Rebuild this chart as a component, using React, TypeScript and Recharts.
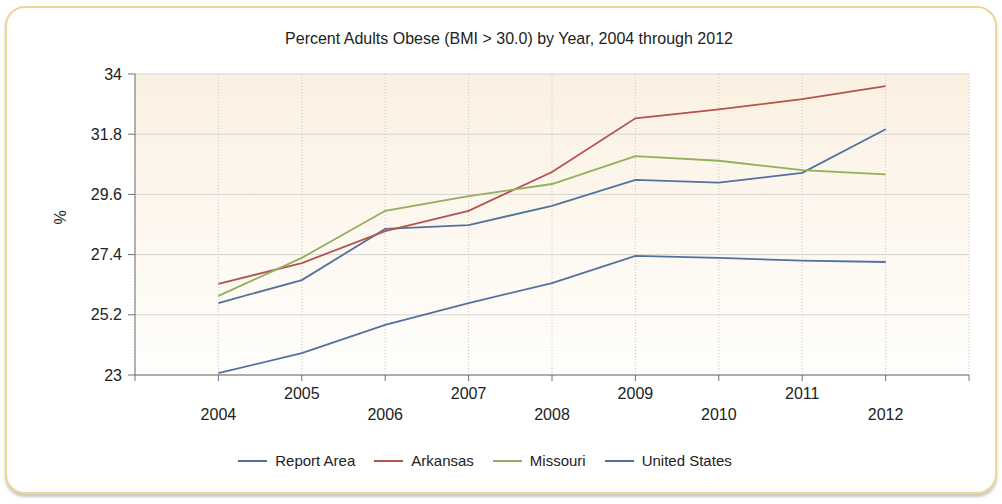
import React from "react";
import {
  LineChart,
  Line,
  XAxis,
  YAxis,
  CartesianGrid,
  Legend,
} from "recharts";

const years = [2004, 2005, 2006, 2007, 2008, 2009, 2010, 2011, 2012];
const reportArea = [25.63, 26.47, 28.34, 28.48, 29.18, 30.13, 30.03, 30.39, 31.98];
const arkansas = [26.33, 27.09, 28.26, 29.0, 30.42, 32.38, 32.71, 33.08, 33.56];
const missouri = [25.89, 27.28, 29.0, 29.54, 29.98, 31.0, 30.83, 30.49, 30.33];
const unitedStates = [23.07, 23.8, 24.83, 25.63, 26.36, 27.35, 27.28, 27.18, 27.13];

const xTicks = [2003, 2004, 2005, 2006, 2007, 2008, 2009, 2010, 2011, 2012, 2013];
const yTicks = [23, 25.2, 27.4, 29.6, 31.8, 34];

const SERIES = [
  { key: "reportArea", name: "Report Area", color: "#52719f" },
  { key: "arkansas", name: "Arkansas", color: "#b5534f" },
  { key: "missouri", name: "Missouri", color: "#93ae5c" },
  { key: "unitedStates", name: "United States", color: "#52719f" },
];

const data = years.map((year, i) => ({
  year,
  reportArea: reportArea[i],
  arkansas: arkansas[i],
  missouri: missouri[i],
  unitedStates: unitedStates[i],
}));

const FONT = '"Liberation Sans", Arial, sans-serif';
const FS = 16;

function YearTick({ x, y, payload }: any) {
  const v = payload.value;
  if (v < 2004 || v > 2012) return null;
  const lower = v % 2 === 0;
  return (
    <text
      x={x}
      y={y}
      dy={lower ? 37 : 16}
      textAnchor="middle"
      fill="#222"
      fontSize={FS}
      fontFamily={FONT}
    >
      {v}
    </text>
  );
}

function LegendContent({ payload }: any) {
  const order = SERIES.map((s) => s.name);
  const items = [...(payload || [])].sort(
    (a: any, b: any) => order.indexOf(a.value) - order.indexOf(b.value)
  );
  return (
    <div
      style={{
        display: "flex",
        justifyContent: "center",
        gap: 19,
        fontFamily: FONT,
        fontSize: 15,
        color: "#222",
      }}
    >
      {items.map((item: any) => (
        <div key={item.value} style={{ display: "flex", alignItems: "center", gap: 8 }}>
          <div style={{ width: 29, height: 2, background: item.color }} />
          <span>{item.value}</span>
        </div>
      ))}
    </div>
  );
}

export default function App() {
  return (
    <div
      style={{
        position: "absolute",
        left: 0,
        top: 0,
        width: 1002,
        height: 504,
        background: "#fff",
        overflow: "hidden",
      }}
    >
      <div
        style={{
          position: "absolute",
          left: 5,
          top: 6,
          width: 988,
          height: 484,
          border: "2px solid #efd692",
          borderRadius: 20,
          boxShadow: "0 3px 3px rgba(0,0,0,0.22)",
          background: "#fff",
        }}
      />
      <div
        style={{
          position: "absolute",
          top: 30,
          left: 0,
          width: 1018,
          textAlign: "center",
          fontFamily: FONT,
          fontSize: FS,
          color: "#222",
        }}
      >
        Percent Adults Obese (BMI &gt; 30.0) by Year, 2004 through 2012
      </div>
      <div style={{ position: "absolute", left: 0, top: 0 }}>
        <LineChart
          width={1002}
          height={504}
          data={data}
          margin={{ top: 74, right: 33, bottom: 79, left: 50 }}
        >
          <defs>
            <linearGradient id="plotBg" x1="0" y1="0" x2="0" y2="1">
              <stop offset="0%" stopColor="#fbf1e2" />
              <stop offset="100%" stopColor="#fffefc" />
            </linearGradient>
          </defs>
          <CartesianGrid
            vertical={false}
            stroke="#d4d4d4"
            fill="url(#plotBg)"
          />
          <CartesianGrid
            horizontal={false}
            stroke="#c4c4c4"
            strokeDasharray="1 2"
          />
          <XAxis
            dataKey="year"
            type="number"
            domain={[2003, 2013]}
            ticks={xTicks}
            interval={0}
            height={50}
            tick={<YearTick />}
            tickSize={6}
            axisLine={{ stroke: "#707070" }}
            tickLine={{ stroke: "#707070" }}
          />
          <YAxis
            type="number"
            domain={[23, 34]}
            ticks={yTicks}
            interval={0}
            width={85}
            tickSize={7}
            tickMargin={6}
            tick={{ fill: "#222", fontSize: FS, fontFamily: FONT }}
            axisLine={{ stroke: "#707070" }}
            tickLine={{ stroke: "#707070" }}
            label={{
              value: "%",
              angle: -90,
              position: "insideLeft",
              offset: 10,
              fill: "#222",
              fontSize: FS,
              fontFamily: FONT,
            }}
          />
          <Legend
            verticalAlign="middle"
            align="center"
            layout="horizontal"
            content={<LegendContent />}
            wrapperStyle={{ top: 452, left: -16, width: 1002 }}
          />
          {SERIES.map((s) => (
            <Line
              key={s.key}
              type="linear"
              dataKey={s.key}
              name={s.name}
              stroke={s.color}
              strokeWidth={1.8}
              dot={false}
              activeDot={false}
              isAnimationActive={false}
            />
          ))}
        </LineChart>
      </div>
    </div>
  );
}
